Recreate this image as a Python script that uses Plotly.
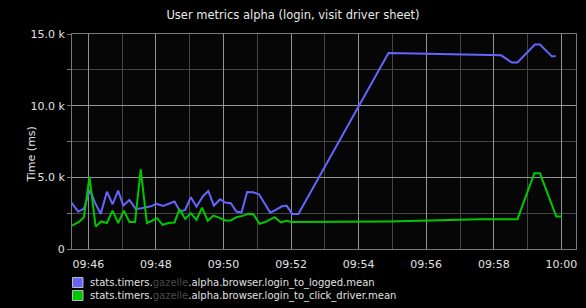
import plotly.graph_objects as go

DAY = "2013-05-14 "

# Series 1: login_to_logged.mean (ms)
t_blue = ["09:45:30","09:45:42","09:45:52","09:46:03","09:46:12","09:46:22","09:46:33","09:46:43","09:46:53","09:47:02",
          "09:47:13","09:47:24","09:47:35","09:47:41","09:47:50","09:48:01","09:48:13","09:48:22","09:48:33","09:48:43",
          "09:48:52","09:49:02","09:49:12","09:49:24","09:49:33","09:49:43","09:49:54","09:50:03","09:50:13","09:50:23",
          "09:50:32","09:50:42","09:50:53","09:51:03","09:51:23","09:51:33","09:51:43","09:51:52","09:52:02","09:52:13",
          "09:54:53","09:56:24","09:57:35","09:58:13","09:58:32","09:58:42","09:59:13","09:59:22","09:59:43","09:59:50"]
v_blue = [3240,2610,2800,4120,3220,2450,4000,3120,4070,3030,
          3420,2800,2850,2920,2960,3150,3010,3120,3310,2610,
          2730,3610,2960,3700,4050,3030,3470,3240,3190,2610,
          2540,3980,3960,3820,2540,2730,2960,3030,2450,2450,
          13680,13610,13540,13510,13010,13010,14260,14260,13440,13440]

# Series 2: login_to_click_driver.mean (ms)
t_green = ["09:45:30","09:45:42","09:45:52","09:46:02","09:46:13","09:46:23","09:46:33","09:46:43","09:46:53","09:47:03",
           "09:47:13","09:47:23","09:47:33","09:47:44","09:47:53","09:48:02","09:48:12","09:48:22","09:48:33","09:48:42",
           "09:48:52","09:49:02","09:49:12","09:49:22","09:49:32","09:49:42","09:49:52","09:50:03","09:50:13","09:50:23",
           "09:50:34","09:50:44","09:50:53","09:51:04","09:51:14","09:51:23","09:51:31","09:51:42","09:51:52","09:52:01",
           "09:52:16","09:54:53","09:57:35","09:58:11","09:58:42","09:59:12","09:59:22","09:59:51","10:00:01"]
v_green = [1620,1850,2190,5040,1570,1920,1810,2680,1810,2680,
           1880,1880,5560,1810,1970,2150,1690,1810,1850,2780,
           2100,2500,2030,2890,1970,2330,2190,1990,1990,2220,
           2310,2450,2430,1760,1880,2080,2220,1850,1970,1880,
           1880,1920,2080,2100,2080,5280,5280,2260,2260]

names = [
    "stats.timers.<span style='color:#4a4a4a'>gazelle</span>.alpha.browser.login_to_logged.mean",
    "stats.timers.<span style='color:#4a4a4a'>gazelle</span>.alpha.browser.login_to_click_driver.mean",
]
colors = ["rgb(100,100,255)", "rgb(0,200,0)"]

y_tickvals = [0, 5000, 10000, 15000]
y_ticktext = ["0", "5.0 k", "10.0 k", "15.0 k"]
y_minor = [2500, 7500, 12500]
x_major = ["09:46", "09:48", "09:50", "09:52", "09:54", "09:56", "09:58", "10:00"]
x_minor = ["09:47", "09:49", "09:51", "09:53", "09:55", "09:57", "09:59"]

fig = go.Figure()
series = [(t_blue, v_blue), (t_green, v_green)]
for (ts, vs), name, col in zip(series, names, colors):
    fig.add_trace(go.Scatter(x=[DAY + t for t in ts], y=vs, mode="lines",
                             line=dict(color=col, width=2), name=name, showlegend=False))

# Legend drawn below the plot (square swatch + label), graphite style
legend_shapes = []
legend_annots = []
for i, (name, col) in enumerate(zip(names, colors)):
    yc = 308 - 282.5 - 13 * i  # pixel from bottom of figure
    legend_shapes.append(dict(type="rect", xref="paper", yref="paper",
                              x0=(72.5 - 72) / 504, x1=(83 - 72) / 504,
                              y0=(yc - 5 - 59) / 215, y1=(yc + 5 - 59) / 215,
                              fillcolor=col, line=dict(color="#bbbbbb", width=1)))
    legend_annots.append(dict(text=name, xref="paper", yref="paper",
                              x=(88 - 72) / 504, y=(yc - 59) / 215,
                              xanchor="left", yanchor="middle", showarrow=False,
                              font=dict(size=10, color="#e0e0e0")))

major_grid = "#959595"
minor_grid = "#454545"
fig.update_layout(
    width=586, height=308,
    paper_bgcolor="black", plot_bgcolor="#060606",
    margin=dict(l=72, r=10, t=34, b=59, autoexpand=False),
    font=dict(family="DejaVu Sans", color="#e0e0e0", size=11),
    title=dict(text="User metrics alpha (login, visit driver sheet)", x=0.5, xref="container",
               y=0.95, yanchor="middle", font=dict(size=11.5, color="#e8e8e8")),
    showlegend=False,
    xaxis=dict(range=[DAY + "09:45:31", DAY + "10:00:26"], type="date",
               tickvals=[DAY + m for m in x_major], ticktext=x_major,
               showgrid=True, gridcolor=major_grid, gridwidth=1,
               minor=dict(tickvals=[DAY + m for m in x_minor], showgrid=True,
                          gridcolor=minor_grid, gridwidth=1, ticks=""),
               showline=True, linecolor="#777777", linewidth=1, mirror=True,
               zeroline=False, ticks="", ticklabelstandoff=5, tickfont=dict(size=11)),
    yaxis=dict(range=[0, 15000], tickvals=y_tickvals, ticktext=y_ticktext,
               showgrid=True, gridcolor=major_grid, gridwidth=1,
               minor=dict(tickvals=y_minor, showgrid=True, gridcolor=minor_grid,
                          gridwidth=1, ticks="outside", ticklen=4, tickcolor="#777777"),
               showline=True, linecolor="#777777", linewidth=1, mirror=True,
               zeroline=False, ticks="outside", ticklen=4, tickcolor="#777777",
               tickfont=dict(size=11)),
    shapes=legend_shapes,
    annotations=[dict(text="Time (ms)", textangle=-90, xref="paper", yref="paper",
                      x=-0.081, y=0.44, xanchor="center", yanchor="middle",
                      showarrow=False, font=dict(size=11, color="#e0e0e0"))] + legend_annots,
)

fig.write_html("out.html")
